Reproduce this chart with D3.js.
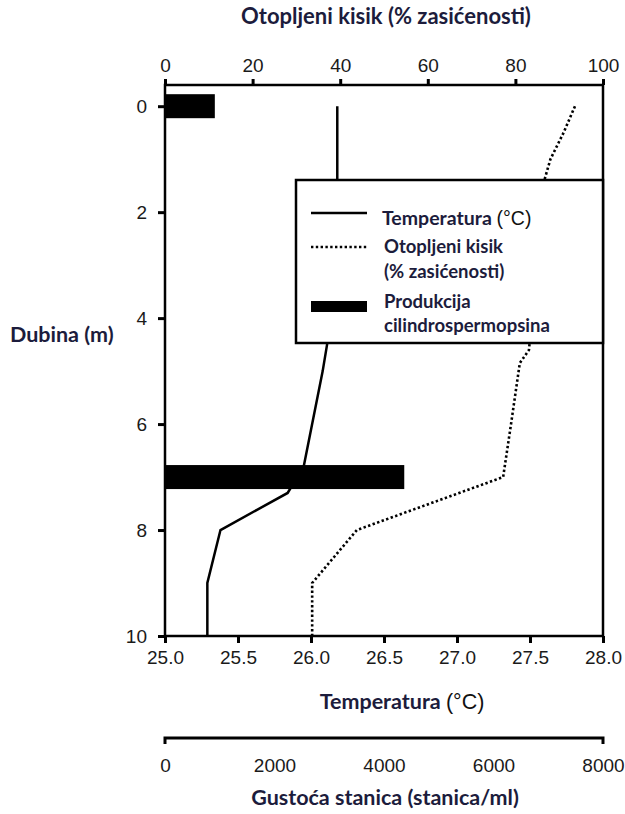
<!DOCTYPE html>
<html>
<head>
<meta charset="utf-8">
<script src="https://cdn.jsdelivr.net/npm/d3@7"></script>
<style>
  body { margin: 0; background: #fff; }
</style>
</head>
<body>
<div id="chart"></div>
<script>
// temperature profile (depth m, °C)
const tempDepth = [0, 1.4, 4.5, 5, 6.8, 7.3, 8, 9, 10];
const tempValue = [26.18, 26.18, 26.11, 26.08, 25.95, 25.84, 25.38, 25.29, 25.29];

// dissolved oxygen (% saturation)
const oxyDepth = [0, 0.5, 1, 1.4, 4.6, 4.85, 6, 7, 8, 9, 10];
const oxyValue = [93.6, 91, 88, 86.6, 83.1, 81, 79, 77.2, 43.8, 33.6, 33.6];

// cylindrospermopsin production, drawn on cell density scale
const barDepth = [0, 7];
const barValue = [910, 4370];

const depthTicks = [0, 2, 4, 6, 8, 10];
const oxyTicks = [0, 20, 40, 60, 80, 100];
const tempTicks = [25, 25.5, 26, 26.5, 27, 27.5, 28];
const cellTicks = [0, 2000, 4000, 6000, 8000];

const W = 625, H = 814;
let margin = {top: 85, right: 22, bottom: 178, left: 165};
const tickFont = "'Liberation Sans', Arial, sans-serif";
const titleFont = "Lato, 'Open Sans', sans-serif";
const navy = "#1c1c3c";

const svg = d3.select("#chart").append("svg")
  .attr("width", W)
  .attr("height", H);

const x0 = margin.left, x1 = W - margin.right;
const y0 = margin.top, y1 = H - margin.bottom;

const yDepth = d3.scaleLinear().domain([-0.4, 10]).range([y0, y1]);
const xTemp = d3.scaleLinear().domain([25, 28]).range([x0, x1]);
const xOxy = d3.scaleLinear().domain([0, 100]).range([x0, x1]);
const xCell = d3.scaleLinear().domain([0, 8000]).range([x0, x1]);

// bars
const barH = 24;
svg.append("g").selectAll("rect")
  .data(barDepth)
  .enter()
  .append("rect")
  .attr("x", xCell(0))
  .attr("y", d => yDepth(d) - barH / 2)
  .attr("width", (d, i) => xCell(barValue[i]) - xCell(0))
  .attr("height", barH)
  .attr("fill", "#000");

// lines
const tempLine = d3.line()
  .x((d, i) => xTemp(tempValue[i]))
  .y(d => yDepth(d));
svg.append("path")
  .attr("d", tempLine(tempDepth))
  .attr("fill", "none")
  .attr("stroke", "#000")
  .attr("stroke-width", 2.5);

const oxyLine = d3.line()
  .x((d, i) => xOxy(oxyValue[i]))
  .y(d => yDepth(d));
svg.append("path")
  .attr("d", oxyLine(oxyDepth))
  .attr("fill", "none")
  .attr("stroke", "#000")
  .attr("stroke-width", 2.6)
  .attr("stroke-dasharray", "2.4,2.4");

// frame
svg.append("rect")
  .attr("x", x0).attr("y", y0)
  .attr("width", x1 - x0).attr("height", y1 - y0)
  .attr("fill", "none")
  .attr("stroke", "#000")
  .attr("stroke-width", 2.5);

// axes
function styleAxis(g) {
  g.select(".domain").remove();
  g.selectAll(".tick line").style("stroke", "#000").style("stroke-width", "3px");
  g.selectAll(".tick text")
    .style("font-family", tickFont)
    .style("font-size", "19px")
    .style("fill", "#1a1a1a");
}

svg.append("g")
  .attr("transform", `translate(${x0},0)`)
  .call(d3.axisLeft(yDepth).tickValues(depthTicks).tickSize(7).tickPadding(11).tickFormat(d3.format("d")))
  .call(styleAxis);

svg.append("g")
  .attr("transform", `translate(0,${y0})`)
  .call(d3.axisTop(xOxy).tickValues(oxyTicks).tickSize(6).tickPadding(7).tickFormat(d3.format("d")))
  .call(styleAxis);

svg.append("g")
  .attr("transform", `translate(0,${y1})`)
  .call(d3.axisBottom(xTemp).tickValues(tempTicks).tickSize(7).tickPadding(8).tickFormat(d3.format(".1f")))
  .call(styleAxis);

const cellAxis = svg.append("g")
  .attr("transform", `translate(0,738)`)
  .call(d3.axisBottom(xCell).tickValues(cellTicks).tickSize(0).tickPadding(21).tickFormat(d3.format("d")))
  .call(styleAxis);
cellAxis.append("path")
  .attr("d", `M${x0},6V0H${x1}V6`)
  .attr("fill", "none")
  .attr("stroke", "#000")
  .attr("stroke-width", 3);

// titles
function title(x, y, size, anchor) {
  return svg.append("text")
    .attr("x", x).attr("y", y)
    .attr("text-anchor", anchor)
    .attr("font-family", titleFont)
    .attr("font-weight", 700)
    .attr("font-size", size)
    .attr("fill", navy);
}

title(386, 24, 22, "middle").text("Otopljeni kisik (% zasićenosti)");
title(10, 342, 21.5, "start").text("Dubina (m)");

const tTitle = title(402, 709, 21.5, "middle");
tTitle.append("tspan").text("Temperatura ");
tTitle.append("tspan").attr("font-family", tickFont).attr("font-weight", 400).attr("fill", "#111").text("(°C)");

title(385, 805, 21.5, "middle").text("Gustoća stanica (stanica/ml)");

// legend
const lg = svg.append("g");
lg.append("rect")
  .attr("x", 296).attr("y", 180)
  .attr("width", x1 - 296).attr("height", 163)
  .attr("fill", "#fff")
  .attr("stroke", "#000")
  .attr("stroke-width", 2.5);
lg.append("line")
  .attr("x1", 311).attr("x2", 367).attr("y1", 213).attr("y2", 213)
  .attr("stroke", "#000").attr("stroke-width", 2.5);
lg.append("line")
  .attr("x1", 311).attr("x2", 367).attr("y1", 247).attr("y2", 247)
  .attr("stroke", "#000").attr("stroke-width", 2.6).attr("stroke-dasharray", "2.4,2.4");
lg.append("rect")
  .attr("x", 311).attr("y", 301).attr("width", 56).attr("height", 11)
  .attr("fill", "#000");

const l1 = title(382, 225, 19.5, "start");
l1.append("tspan").text("Temperatura ");
l1.append("tspan").attr("font-family", tickFont).attr("font-weight", 400).attr("fill", "#111").text("(°C)");

title(384, 253, 18.5, "start").text("Otopljeni kisik");
title(384, 278, 18.5, "start").text("(% zasićenosti)");
title(384, 308, 18.5, "start").text("Produkcija");
title(384, 332, 18.5, "start").text("cilindrospermopsina");
</script>
</body>
</html>
